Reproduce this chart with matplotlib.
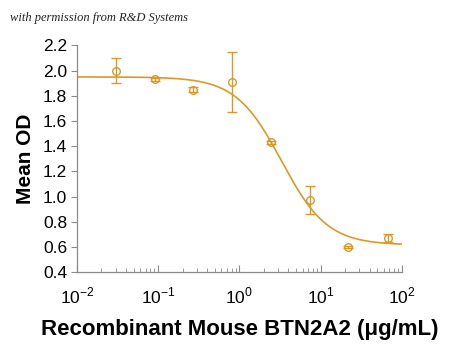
import numpy as np
import matplotlib
matplotlib.use("Agg")
import matplotlib.pyplot as plt
from matplotlib.ticker import LogLocator, NullFormatter

conc = [0.030, 0.091, 0.27, 0.81, 2.44, 7.4, 22.0, 67.0]
mean_od = [2.00, 1.93, 1.85, 1.91, 1.43, 0.97, 0.60, 0.67]
err = [0.10, 0.01, 0.02, 0.24, 0.01, 0.11, 0.005, 0.035]

# four-parameter logistic fit parameters
fit_top = 1.95
fit_bottom = 0.615
fit_ec50 = 3.3
fit_hill = 1.54

color = "#D99A2B"
plt.rcParams['font.family'] = ['Liberation Sans', 'DejaVu Sans']

fig = plt.figure(figsize=(4.5, 3.47), dpi=100)
ax = fig.add_axes([0.171, 0.216, 0.722, 0.653])

xs = np.logspace(-2, 2, 400)
ys = fit_bottom + (fit_top - fit_bottom) / (1 + (xs / fit_ec50) ** fit_hill)
ax.plot(xs, ys, color=color, lw=1.2)
ax.errorbar(conc, mean_od, yerr=err, fmt='o', mfc='none', mec=color, ecolor=color,
            ms=5.5, mew=1.0, elinewidth=1.0, capsize=3.5, capthick=1.0)

ax.set_xscale('log')
ax.set_xlim(0.01, 100)
ax.set_ylim(0.4, 2.2)
ax.set_yticks(np.arange(0.4, 2.21, 0.2))
ax.set_yticklabels([f"{v:.1f}" for v in np.arange(0.4, 2.21, 0.2)])
ax.set_xticks([0.01, 0.1, 1, 10, 100])
ax.set_xticklabels([r'10$^{\mathregular{-2}}$', r'10$^{\mathregular{-1}}$', r'10$^{\mathregular{0}}$',
                    r'10$^{\mathregular{1}}$', r'10$^{\mathregular{2}}$'])
ax.xaxis.set_minor_locator(LogLocator(base=10, subs=np.arange(2, 10)))
ax.xaxis.set_minor_formatter(NullFormatter())

for s in ['top', 'right']:
    ax.spines[s].set_visible(False)
for s in ['left', 'bottom']:
    ax.spines[s].set_color('#8a8a8a')
    ax.spines[s].set_linewidth(0.9)

ax.tick_params(axis='y', direction='out', length=4, color='#8a8a8a', labelsize=12.5, pad=3)
ax.tick_params(axis='x', which='major', direction='in', length=5, color='#8a8a8a', labelsize=12.5, pad=10)
ax.tick_params(axis='x', which='minor', direction='in', length=3, color='#8a8a8a')

ax.set_ylabel('Mean OD', fontsize=15, fontweight='bold', labelpad=6)
ax.set_xlabel('Recombinant Mouse BTN2A2 (μg/mL)', fontsize=16, fontweight='bold', labelpad=9)

fig.text(0.022, 0.94, 'with permission from R&D Systems', fontsize=9, style='italic',
         family='Liberation Serif', color='#222222')

fig.savefig('out.png', dpi=100)
